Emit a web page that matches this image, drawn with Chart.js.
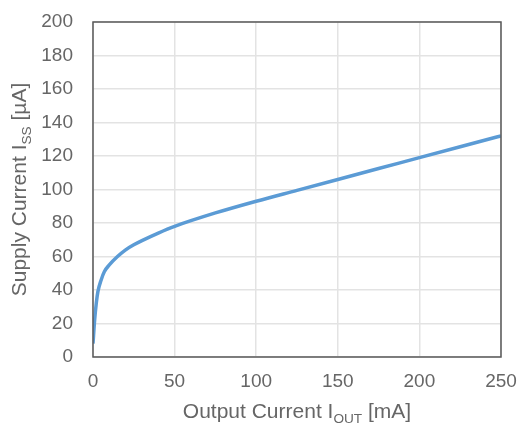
<!DOCTYPE html>
<html><head><meta charset="utf-8">
<script src="https://cdn.jsdelivr.net/npm/chart.js@4/dist/chart.umd.min.js"></script>
<style>html,body{margin:0;padding:0;background:#fff}#wrap{width:521px;height:430px}</style>
</head><body><div id="wrap"><canvas id="c"></canvas></div>
<script>
const outputCurrent = [0, 1, 2, 3, 5, 7, 10, 15, 20, 25, 30, 40, 50, 75, 100, 125, 150, 175, 200, 225, 250];
const supplyCurrent = [8, 22, 32, 39, 46, 51, 55, 60, 64, 67, 69.5, 74, 78, 86, 93, 99.5, 106, 112.5, 119, 125.5, 132];
const xTicks = [0, 50, 100, 150, 200, 250];
const yTicks = [0, 20, 40, 60, 80, 100, 120, 140, 160, 180, 200];
const xTitle = ["Output Current I", "OUT", " [mA]"];
const yTitle = ["Supply Current I", "SS", " [µA]"];

const FONT = "'Liberation Sans', Arial, sans-serif";
const GRAY = '#666666';

function drawSubTitle(ctx, parts, size) {
  ctx.font = size + 'px ' + FONT;
  const w0 = ctx.measureText(parts[0]).width;
  const w2 = ctx.measureText(parts[2]).width;
  ctx.font = (size * 0.65) + 'px ' + FONT;
  const w1 = ctx.measureText(parts[1]).width;
  const total = w0 + w1 + w2;
  let x = -total / 2;
  ctx.textBaseline = 'alphabetic';
  ctx.textAlign = 'left';
  ctx.font = size + 'px ' + FONT;
  ctx.fillText(parts[0], x, size * 0.35); x += w0;
  ctx.font = (size * 0.65) + 'px ' + FONT;
  ctx.fillText(parts[1], x, size * 0.35 + size * 0.22); x += w1;
  ctx.font = size + 'px ' + FONT;
  ctx.fillText(parts[2], x, size * 0.35);
}

const deco = {
  id: 'deco',
  afterDraw(chart) {
    const {ctx, chartArea: a} = chart;
    ctx.save();
    ctx.strokeStyle = '#595959';
    ctx.lineWidth = 1.5;
    ctx.strokeRect(a.left, a.top, a.right - a.left, a.bottom - a.top);
    ctx.fillStyle = GRAY;
    ctx.save();
    ctx.translate((a.left + a.right) / 2, 411);
    drawSubTitle(ctx, xTitle, 21);
    ctx.restore();
    ctx.save();
    ctx.translate(19, (a.top + a.bottom) / 2);
    ctx.rotate(-Math.PI / 2);
    drawSubTitle(ctx, yTitle, 21);
    ctx.restore();
    ctx.restore();
  }
};

new Chart(document.getElementById('c'), {
  type: 'line',
  data: {
    datasets: [{
      data: outputCurrent.map((x, i) => ({x, y: supplyCurrent[i]})),
      borderColor: '#5B9BD5',
      borderWidth: 3.5,
      pointRadius: 0,
      cubicInterpolationMode: 'monotone',
      fill: false
    }]
  },
  options: {
    responsive: true,
    maintainAspectRatio: false,
    animation: false,
    layout: {padding: {top: 22, right: 20, left: 0, bottom: 0}},
    plugins: {legend: {display: false}, tooltip: {enabled: false}},
    scales: {
      x: {
        type: 'linear', min: 0, max: 250,
        afterBuildTicks(s) { s.ticks = xTicks.map(v => ({value: v})); },
        afterFit(s) { s.height = 73; s.paddingLeft = 0; s.paddingRight = 0; },
        grid: {color: '#e3e3e3', lineWidth: 1.5, drawTicks: false},
        border: {display: false},
        ticks: {color: GRAY, font: {family: FONT, size: 19}, padding: 13, maxRotation: 0}
      },
      y: {
        type: 'linear', min: 0, max: 200,
        afterBuildTicks(s) { s.ticks = yTicks.map(v => ({value: v})); },
        afterFit(s) { s.width = 93; s.paddingTop = 0; s.paddingBottom = 0; },
        grid: {color: '#e3e3e3', lineWidth: 1.5, drawTicks: false},
        border: {display: false},
        ticks: {color: GRAY, font: {family: FONT, size: 19}, padding: 20}
      }
    }
  },
  plugins: [deco]
});
</script></body></html>
